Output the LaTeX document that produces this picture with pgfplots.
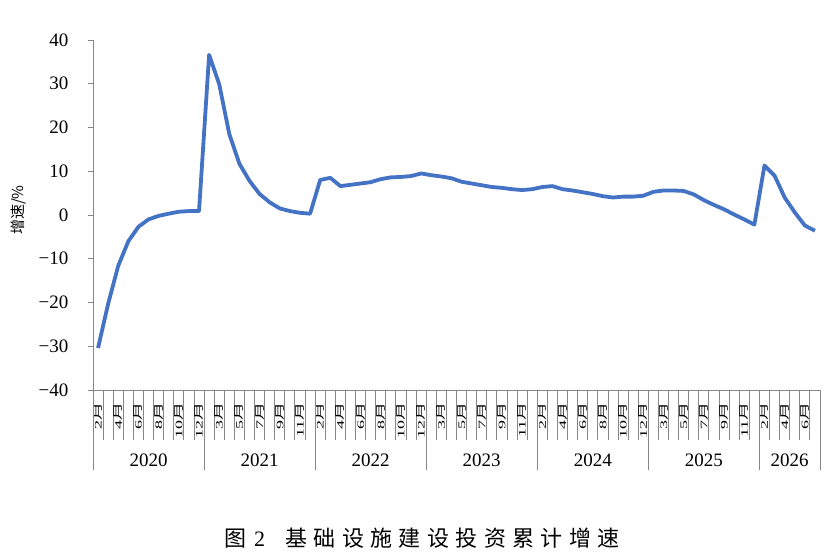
\documentclass[border=0pt]{standalone}
\usepackage{fontspec}
\setmainfont{Liberation Serif}
\newfontfamily\cjk{Noto Sans CJK SC}
\usepackage{graphicx}
\usepackage{pgfplots}
\usepackage{pgfplotstable}
\pgfplotsset{compat=1.18}
\usetikzlibrary{calc}

\definecolor{linec}{RGB}{68,114,196}
\definecolor{axc}{RGB}{134,134,134}
\newcommand\ml[1]{\scalebox{1.8}[1]{#1{\cjk 月}}}

% monthly cumulative growth, 2020-02 .. 2026-07 (index 0..71)
\pgfplotstableread{
x y
0 -30.4
1 -20.3
2 -11.6
3 -6.0
4 -2.7
5 -1.0
6 -0.2
7 0.3
8 0.75
9 0.9
10 0.9
11 36.6
12 29.9
13 18.5
14 11.7
15 7.8
16 4.8
17 2.9
18 1.5
19 0.9
20 0.5
21 0.3
22 8.0
23 8.5
24 6.6
25 6.9
26 7.2
27 7.5
28 8.2
29 8.6
30 8.7
31 8.9
32 9.5
33 9.1
34 8.8
35 8.4
36 7.6
37 7.2
38 6.8
39 6.4
40 6.2
41 5.9
42 5.7
43 5.9
44 6.4
45 6.6
46 5.9
47 5.6
48 5.2
49 4.8
50 4.3
51 4.0
52 4.2
53 4.2
54 4.4
55 5.3
56 5.6
57 5.6
58 5.5
59 4.7
60 3.4
61 2.3
62 1.3
63 0.1
64 -1.0
65 -2.2
66 11.3
67 9.0
68 4.0
69 0.6
70 -2.4
71 -3.6
}\growth

\begin{document}
\begin{tikzpicture}
\begin{axis}[
    name=ax,
    scale only axis,
    width=727pt, height=350pt,
    xmin=-0.5, xmax=71.5,
    ymin=-40, ymax=40,
    axis x line*=bottom, axis y line*=left,
    axis line style={axc, line width=0.9pt},
    tick align=outside,
    major tick length=50pt,
    every tick/.style={axc, line width=0.9pt},
    xtick={-0.5,0.5,...,71.5},
    xticklabels={\ml{2},{},\ml{4},{},\ml{6},{},\ml{8},{},\ml{10},{},\ml{12},{},
        \ml{3},{},\ml{5},{},\ml{7},{},\ml{9},{},\ml{11},{},
        \ml{2},{},\ml{4},{},\ml{6},{},\ml{8},{},\ml{10},{},\ml{12},{},
        \ml{3},{},\ml{5},{},\ml{7},{},\ml{9},{},\ml{11},{},
        \ml{2},{},\ml{4},{},\ml{6},{},\ml{8},{},\ml{10},{},\ml{12},{},
        \ml{3},{},\ml{5},{},\ml{7},{},\ml{9},{},\ml{11},{},
        \ml{2},{},\ml{4},{},\ml{6},{},{}},
    x tick label style={font=\fontsize{10}{10}\selectfont, xshift=5.05pt, yshift=38pt,
        rotate=90, anchor=east, inner sep=0pt},
    extra x ticks={-0.5,10.5,21.5,32.5,43.5,54.5,65.5,71.5},
    extra x tick labels={},
    extra x tick style={major tick length=80pt},
    ytick=\empty,
    extra y ticks={-40,-30,...,40},
    extra y tick labels={−40,−30,−20,−10,0,10,20,30,40},
    extra y tick style={major tick length=5pt},
    y tick label style={font=\fontsize{19}{19}\selectfont, xshift=-16pt},
    ylabel={\cjk 增速/\%},
    ylabel style={at={(axis description cs:-0.102,0.514)}, anchor=center,
        font=\fontsize{15}{15}\selectfont},
    clip=false,
]
\addplot[color=linec, line width=3.8pt, line join=round, no markers] table[x=x, y=y] {\growth};
\foreach \c/\yr in {5/2020,16/2021,27/2022,38/2023,49/2024,60/2025,68.5/2026}{
    \edef\tmp{\noexpand\node[font=\noexpand\fontsize{19}{19}\noexpand\selectfont, yshift=-70pt]
        at (axis cs:\c,-40) {\yr};}\tmp
}
\end{axis}
\node[font=\fontsize{22}{22}\selectfont\cjk] at ($(ax.south west)+(329pt,-148pt)$)
    {\makebox[28pt]{图}\makebox[21pt]{\rmfamily 2}\hspace{12pt}\makebox[28.4pt]{基}\makebox[28.4pt]{础}\makebox[28.4pt]{设}\makebox[28.4pt]{施}\makebox[28.4pt]{建}\makebox[28.4pt]{设}\makebox[28.4pt]{投}\makebox[28.4pt]{资}\makebox[28.4pt]{累}\makebox[28.4pt]{计}\makebox[28.4pt]{增}\makebox[28.4pt]{速}};
\pgfresetboundingbox
\path[use as bounding box] ($(ax.south west)+(-93pt,-168pt)$) rectangle ($(ax.south west)+(738pt,390pt)$);
\end{tikzpicture}
\end{document}
